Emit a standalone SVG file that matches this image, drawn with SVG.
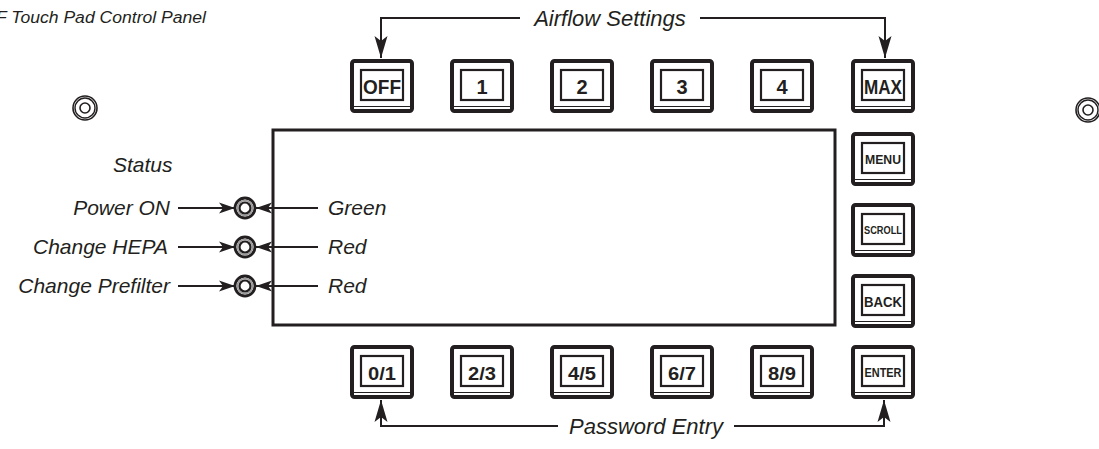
<svg xmlns="http://www.w3.org/2000/svg" width="1099" height="449" viewBox="0 0 1099 449">
  <style>
    .lbl { font-family: "Liberation Sans", Arial, sans-serif; font-style: italic; font-size: 21px; fill: #231f20; }
    .grp { font-size: 22px; }
    .title { font-family: "Liberation Sans", Arial, sans-serif; font-style: italic; font-size: 16px; fill: #231f20; }
    .btn-outer { fill: #fff; stroke: #231f20; stroke-width: 4; }
    .btn-inner { fill: none; stroke: #231f20; stroke-width: 2.2; }
    .btn-base { stroke: #231f20; stroke-width: 1.2; }
    .key { font-family: "Liberation Sans", Arial, sans-serif; font-weight: bold; fill: #231f20; text-anchor: middle; }
    .wire { fill: none; stroke: #231f20; stroke-width: 2; }
    .led-o { fill: #fff; stroke: #231f20; stroke-width: 2.8; }
    .led-m { fill: none; stroke: #9a9a9a; stroke-width: 1.5; }
    .led-i { fill: #fff; stroke: #231f20; stroke-width: 2.2; }
  </style>
  <defs>
    <marker id="head" markerUnits="userSpaceOnUse" markerWidth="24" markerHeight="14" refX="22" refY="7" orient="auto">
      <path d="M22,7 L0,0.5 L5,7 L0,13.5 Z" fill="#231f20"/>
    </marker>
    <marker id="head-s" markerUnits="userSpaceOnUse" markerWidth="18" markerHeight="12" refX="16" refY="6" orient="auto">
      <path d="M16,6 L0,0.5 L4,6 L0,11.5 Z" fill="#231f20"/>
    </marker>
    <g id="btn">
      <rect class="btn-outer" x="0" y="0" width="60" height="50" rx="2.5"/>
      <line class="btn-base" x1="2" y1="45.5" x2="58" y2="45.5"/>
      <rect class="btn-inner" x="9" y="9" width="42" height="30"/>
    </g>
    <g id="mount">
      <circle r="12" fill="none" stroke="#231f20" stroke-width="1.6"/>
      <circle r="10" fill="none" stroke="#231f20" stroke-width="1.4"/>
      <circle r="5" fill="none" stroke="#231f20" stroke-width="1.6"/>
    </g>
  </defs>

  <rect width="1099" height="449" fill="#fff"/>

  <!-- panel caption -->
  <text class="title" x="-4" y="23" textLength="210" lengthAdjust="spacingAndGlyphs">F Touch Pad Control Panel</text>

  <!-- mounting holes -->
  <use id="mount-left" href="#mount" x="85" y="108"/>
  <use id="mount-right" href="#mount" x="1088" y="110"/>

  <!-- display window -->
  <rect id="display" x="273" y="130" width="562" height="195" fill="none" stroke="#231f20" stroke-width="3"/>

  <!-- connectors -->
  <g id="connectors">
    <path class="wire" d="M520,18 H381 V58" marker-end="url(#head)"/>
    <path class="wire" d="M700,18 H885 V58" marker-end="url(#head)"/>
    <path class="wire" d="M558,426 H381 V400" marker-end="url(#head)"/>
    <path class="wire" d="M734,426 H884 V400" marker-end="url(#head)"/>
    <path class="wire" d="M178,208 H235" marker-end="url(#head-s)"/>
    <path class="wire" d="M178,247 H235" marker-end="url(#head-s)"/>
    <path class="wire" d="M178,286 H235" marker-end="url(#head-s)"/>
    <path class="wire" d="M318,208 H256" marker-end="url(#head-s)"/>
    <path class="wire" d="M318,247 H256" marker-end="url(#head-s)"/>
    <path class="wire" d="M318,286 H256" marker-end="url(#head-s)"/>
  </g>

  <!-- group labels -->
  <text class="lbl grp" x="610" y="26" text-anchor="middle">Airflow Settings</text>
  <text class="lbl grp" x="646" y="434" text-anchor="middle">Password Entry</text>

  <!-- status indicators -->
  <g id="status">
    <text class="lbl" x="113" y="172">Status</text>
  </g>
  <g id="led-power">
    <text class="lbl" x="170" y="215" text-anchor="end">Power ON</text>
    <circle class="led-o" cx="245" cy="208" r="10"/>
    <circle class="led-m" cx="245" cy="208" r="7.6"/>
    <circle class="led-i" cx="245" cy="208" r="5.5"/>
    <text class="lbl" x="328" y="215">Green</text>
  </g>
  <g id="led-hepa">
    <text class="lbl" x="168" y="254" text-anchor="end">Change HEPA</text>
    <circle class="led-o" cx="245" cy="247" r="10"/>
    <circle class="led-m" cx="245" cy="247" r="7.6"/>
    <circle class="led-i" cx="245" cy="247" r="5.5"/>
    <text class="lbl" x="328" y="254">Red</text>
  </g>
  <g id="led-prefilter">
    <text class="lbl" x="170" y="293" text-anchor="end">Change Prefilter</text>
    <circle class="led-o" cx="245" cy="286" r="10"/>
    <circle class="led-m" cx="245" cy="286" r="7.6"/>
    <circle class="led-i" cx="245" cy="286" r="5.5"/>
    <text class="lbl" x="328" y="293">Red</text>
  </g>

  <!-- airflow keys -->
  <g id="key-off"><use href="#btn" x="352" y="61"/><text class="key" x="382" y="94" font-size="21" textLength="38" lengthAdjust="spacingAndGlyphs">OFF</text></g>
  <g id="key-1"><use href="#btn" x="452" y="61"/><text class="key" x="482" y="94" font-size="20">1</text></g>
  <g id="key-2"><use href="#btn" x="552" y="61"/><text class="key" x="582" y="94" font-size="20">2</text></g>
  <g id="key-3"><use href="#btn" x="652" y="61"/><text class="key" x="682" y="94" font-size="20">3</text></g>
  <g id="key-4"><use href="#btn" x="752" y="61"/><text class="key" x="782" y="94" font-size="20">4</text></g>
  <g id="key-max"><use href="#btn" x="853" y="61"/><text class="key" x="883" y="94" font-size="21" textLength="38" lengthAdjust="spacingAndGlyphs">MAX</text></g>

  <!-- menu keys -->
  <g id="key-menu"><use href="#btn" x="853" y="134"/><text class="key" x="883" y="164" font-size="12" textLength="36" lengthAdjust="spacingAndGlyphs">MENU</text></g>
  <g id="key-scroll"><use href="#btn" x="853" y="205"/><text class="key" x="883" y="234" font-size="11" textLength="38" lengthAdjust="spacingAndGlyphs">SCROLL</text></g>
  <g id="key-back"><use href="#btn" x="853" y="276"/><text class="key" x="883" y="307" font-size="15" textLength="38" lengthAdjust="spacingAndGlyphs">BACK</text></g>
  <g id="key-enter"><use href="#btn" x="853" y="347"/><text class="key" x="883" y="377" font-size="12" textLength="37" lengthAdjust="spacingAndGlyphs">ENTER</text></g>

  <!-- password keys -->
  <g id="key-01"><use href="#btn" x="352" y="347"/><text class="key" x="382" y="380" font-size="18" textLength="28" lengthAdjust="spacingAndGlyphs">0/1</text></g>
  <g id="key-23"><use href="#btn" x="452" y="347"/><text class="key" x="482" y="380" font-size="18" textLength="28" lengthAdjust="spacingAndGlyphs">2/3</text></g>
  <g id="key-45"><use href="#btn" x="552" y="347"/><text class="key" x="582" y="380" font-size="18" textLength="28" lengthAdjust="spacingAndGlyphs">4/5</text></g>
  <g id="key-67"><use href="#btn" x="652" y="347"/><text class="key" x="682" y="380" font-size="18" textLength="28" lengthAdjust="spacingAndGlyphs">6/7</text></g>
  <g id="key-89"><use href="#btn" x="752" y="347"/><text class="key" x="782" y="380" font-size="18" textLength="28" lengthAdjust="spacingAndGlyphs">8/9</text></g>
</svg>
